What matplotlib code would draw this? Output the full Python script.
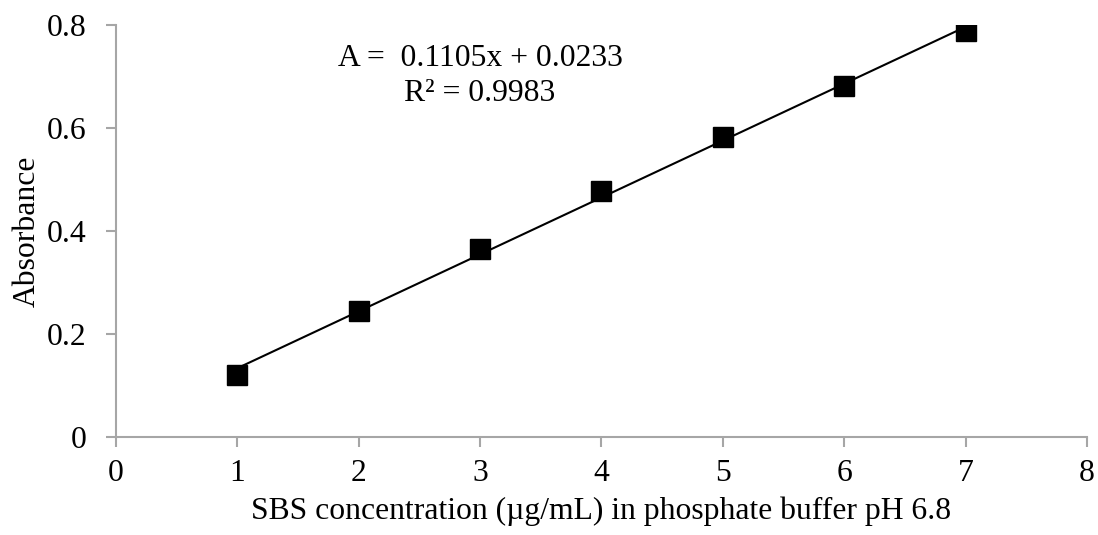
import numpy as np
import matplotlib.pyplot as plt

# Kalibrierdaten
conc = [1, 2, 3, 4, 5, 6, 7]
absorbance = [0.120, 0.245, 0.365, 0.477, 0.583, 0.681, 0.789]

slope = 0.1105
intercept = 0.0233
r2 = 0.9983

plt.rcParams["font.family"] = ["Liberation Serif", "DejaVu Serif"]
FS = 22.8

fig = plt.figure(figsize=(10.98, 5.35), dpi=100)
ax = fig.add_axes([0.1056, 0.183, 0.8844, 0.770])

# Trendlinie
xs = np.array([conc[0], conc[-1]])
ax.plot(xs, slope * xs + intercept, color="black", lw=1.5, zorder=2)

ax.plot(conc, absorbance, linestyle="none", marker="s", markersize=13.7,
        color="black", zorder=3)

ax.text(3.0, 0.736, f"A =  {slope}x + {intercept}", ha="center", va="center",
        fontsize=FS)
ax.text(3.0, 0.668, f"R² = {r2}", ha="center", va="center", fontsize=FS)

ax.set_xlim(0, 8)
ax.set_ylim(0, 0.8)
ax.set_xticks(range(0, 9))
ax.set_yticks([0, 0.2, 0.4, 0.6, 0.8])
ax.set_yticklabels(["0", "0.2", "0.4", "0.6", "0.8"])

for s in ["top", "right"]:
    ax.spines[s].set_visible(False)
for s in ["left", "bottom"]:
    ax.spines[s].set_color("#a6a6a6")
    ax.spines[s].set_linewidth(1.5)

ax.tick_params(direction="out", length=7, width=1.5, color="#a6a6a6",
               labelsize=FS)
ax.tick_params(axis="x", pad=9)
ax.tick_params(axis="y", pad=14)

ax.set_xlabel("SBS concentration (µg/mL) in phosphate buffer pH 6.8",
              fontsize=FS, labelpad=6)
ax.set_ylabel("Absorbance", fontsize=FS, labelpad=4)

fig.savefig("out.png", dpi=100)
